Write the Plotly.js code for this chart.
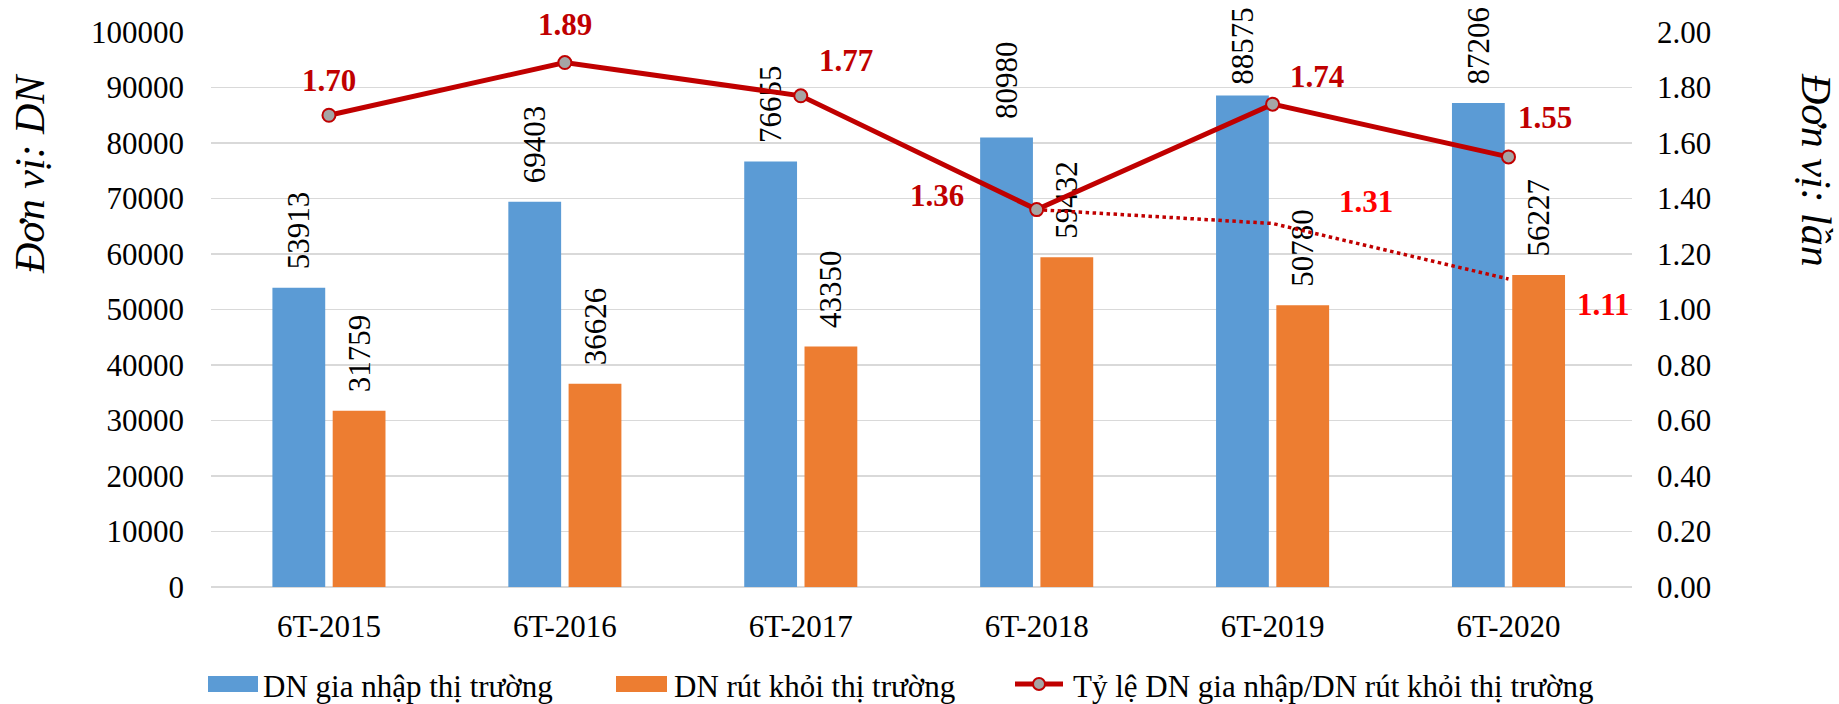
<!DOCTYPE html>
<html>
<head>
<meta charset="utf-8">
<script src="https://cdn.plot.ly/plotly-3.0.1.min.js"></script>
<style>html,body{margin:0;padding:0;background:#fff;}#chart{width:1839px;height:704px;}</style>
</head>
<body>
<div id="chart"></div>
<script>
// ---- data ----
const categories = ['6T-2015', '6T-2016', '6T-2017', '6T-2018', '6T-2019', '6T-2020'];
const entered = [53913, 69403, 76655, 80980, 88575, 87206];
const exited = [31759, 36626, 43350, 59432, 50780, 56227];
const ratio = [1.70, 1.89, 1.77, 1.36, 1.74, 1.55];
const ratioDotCategories = ['6T-2018', '6T-2019', '6T-2020'];
const ratioDot = [1.36, 1.31, 1.11];
const seriesNames = ['DN gia nhập thị trường', 'DN rút khỏi thị trường', 'Tỷ lệ DN gia nhập/DN rút khỏi thị trường'];
const leftTitle = 'Đơn vị: DN';
const rightTitle = 'Đơn vị: lần';
const leftTicks = [0, 10000, 20000, 30000, 40000, 50000, 60000, 70000, 80000, 90000, 100000];
const rightTicks = [0, 0.2, 0.4, 0.6, 0.8, 1.0, 1.2, 1.4, 1.6, 1.8, 2.0];

// ---- layout geometry ----
const FONT = 'Liberation Serif';
const L = 211, R = 1632, T = 32, B = 587, FW = 1839, FH = 704;
const W = R - L, H = B - T;
const px2x = p => (p - L) / W;
const py2y = p => (B - p) / H;
const BLUE = '#5B9BD5', ORANGE = '#ED7D31', DARKRED = '#C00000', RED = '#FF0000';

const NB = '\u00a0';
function padLabels(vals) {
  return vals.map(v => {
    const top = T + (1 - v / 100000) * H;
    const pad = (top - 96 < 5) ? NB : NB + NB;
    return pad + String(v);
  });
}
const labelFont = {family: FONT, size: 31, color: '#000'};

const traces = [
  {
    type: 'bar', x: categories, y: entered, name: seriesNames[0],
    marker: {color: BLUE}, text: padLabels(entered), textposition: 'outside',
    textangle: -90, constraintext: 'none', cliponaxis: false,
    textfont: labelFont, outsidetextfont: labelFont, hoverinfo: 'x+y'
  },
  {
    type: 'bar', x: categories, y: exited, name: seriesNames[1],
    marker: {color: ORANGE}, text: padLabels(exited), textposition: 'outside',
    textangle: -90, constraintext: 'none', cliponaxis: false,
    textfont: labelFont, outsidetextfont: labelFont, hoverinfo: 'x+y'
  },
  {
    type: 'scatter', mode: 'lines', x: ratioDotCategories, y: ratioDot, yaxis: 'y2',
    line: {color: DARKRED, width: 3.5, dash: 'dot'}, showlegend: false, cliponaxis: false
  },
  {
    type: 'scatter', mode: 'lines+markers', x: categories, y: ratio, yaxis: 'y2', name: seriesNames[2],
    line: {color: DARKRED, width: 5},
    marker: {size: 13, color: '#A5A5A5', line: {color: DARKRED, width: 2}}, cliponaxis: false
  }
];

// ratio label offsets (px, from the point): dx, dy(up positive)
const solidOffsets = [[0, 35], [0, 38], [45, 35], [-100, 14], [44, 28], [36, 39]];
const dotOffsets = [null, [93, 22], [95, -26]];

const annotations = [];
ratio.forEach((v, i) => {
  annotations.push({
    xref: 'x', yref: 'y2', x: categories[i], y: v, text: v.toFixed(2),
    xanchor: 'center', yanchor: 'middle',
    showarrow: false, xshift: solidOffsets[i][0], yshift: solidOffsets[i][1],
    font: {family: FONT, size: 31, color: DARKRED, weight: 'bold'}
  });
});
ratioDot.forEach((v, i) => {
  if (!dotOffsets[i]) return;
  annotations.push({
    xref: 'x', yref: 'y2', x: ratioDotCategories[i], y: v, text: v.toFixed(2),
    xanchor: 'center', yanchor: 'middle',
    showarrow: false, xshift: dotOffsets[i][0], yshift: dotOffsets[i][1],
    font: {family: FONT, size: 31, color: RED, weight: 'bold'}
  });
});
// axis titles
annotations.push({
  xref: 'paper', yref: 'paper', x: px2x(30), y: py2y(174), xanchor: 'center', yanchor: 'middle',
  text: leftTitle, textangle: -90,
  showarrow: false, font: {family: FONT, size: 42, color: '#000', style: 'italic'}
});
annotations.push({
  xref: 'paper', yref: 'paper', x: px2x(1816), y: py2y(170), xanchor: 'center', yanchor: 'middle',
  text: rightTitle, textangle: 90,
  showarrow: false, font: {family: FONT, size: 42, color: '#000', style: 'italic'}
});
// custom legend texts
const legendTextX = [261, 672, 1071];
seriesNames.forEach((n, i) => {
  annotations.push({
    xref: 'paper', yref: 'paper', x: px2x(legendTextX[i]), y: py2y(686), xanchor: 'left', yanchor: 'middle',
    text: n, showarrow: false, font: {family: FONT, size: 31, color: '#000'}
  });
});

const shapes = [
  {type: 'rect', xref: 'paper', yref: 'paper', x0: px2x(208), x1: px2x(258), y0: py2y(692), y1: py2y(676), fillcolor: BLUE, line: {width: 0}},
  {type: 'rect', xref: 'paper', yref: 'paper', x0: px2x(616), x1: px2x(667), y0: py2y(692), y1: py2y(676), fillcolor: ORANGE, line: {width: 0}},
  {type: 'line', xref: 'paper', yref: 'paper', x0: px2x(1015), x1: px2x(1063), y0: py2y(684), y1: py2y(684), line: {color: DARKRED, width: 5}},
  {type: 'circle', xref: 'paper', yref: 'paper', x0: px2x(1033), x1: px2x(1045), y0: py2y(690), y1: py2y(678), fillcolor: '#A5A5A5', line: {color: DARKRED, width: 2}}
];

const layout = {
  width: FW, height: FH,
  margin: {l: L, r: FW - R, t: T, b: FH - B, pad: 0},
  paper_bgcolor: '#fff', plot_bgcolor: '#fff',
  font: {family: FONT, size: 31, color: '#000'},
  showlegend: false,
  barmode: 'group', bargap: 0.489, bargroupgap: 0.124,
  xaxis: {
    type: 'category', categoryorder: 'array', categoryarray: categories,
    showgrid: false, zeroline: false, showline: false, ticks: '',
    tickfont: {family: FONT, size: 31, color: '#000'}, ticklabelstandoff: 18
  },
  yaxis: {
    range: [0, 100000], tickvals: leftTicks, ticktext: leftTicks.map(String),
    showgrid: true, gridcolor: '#D9D9D9', gridwidth: 1.3,
    zeroline: true, zerolinecolor: '#D9D9D9', zerolinewidth: 1.3,
    showline: false, ticks: '', tickfont: {family: FONT, size: 31, color: '#000'},
    ticklabelstandoff: 26
  },
  yaxis2: {
    overlaying: 'y', side: 'right', range: [0, 2], tickvals: rightTicks,
    ticktext: rightTicks.map(v => v.toFixed(2)),
    showgrid: false, zeroline: false, showline: false, ticks: '',
    tickfont: {family: FONT, size: 31, color: '#000'}, ticklabelstandoff: 24
  },
  annotations: annotations,
  shapes: shapes
};

Plotly.newPlot('chart', traces, layout, {displayModeBar: false, staticPlot: true});
</script>
</body>
</html>
